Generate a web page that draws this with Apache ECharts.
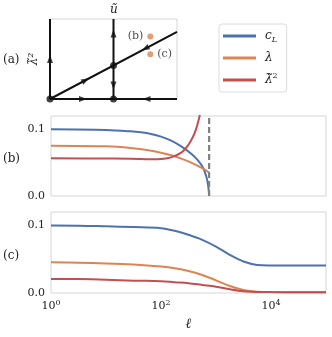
<!DOCTYPE html>
<html>
<head>
<meta charset="utf-8">
<script src="https://cdn.jsdelivr.net/npm/echarts@6/dist/echarts.min.js"></script>
<style>
  html, body { margin: 0; padding: 0; background: #fff; }
  #chart { width: 332px; height: 337px; }
</style>
</head>
<body>
<div id="chart"></div>
<script>
  // panel (a): flow diagram in unit coordinates
  const flowLines = [
    [[0, 0], [0, 1]],
    [[0, 0], [1, 0]],
    [[0.5, 0], [0.5, 1]],
    [[0, 0], [1, 0.84]],
  ];
  const fixedPoints = [[0, 0], [0.5, 0], [0.5, 0.42]];
  const arrowPoints = [[0, 0.5], [0.5, 0.82], [0.5, 0.17], [0.26, 0], [0.76, 0], [0.28, 0.235], [0.75, 0.63]];
  const arrowAngles = [0, 0, 180, -90, 90, -62, 118];
  const startPoints = [[0.79, 0.78], [0.79, 0.56]];
  const startLabels = ['(b)', '(c)'];

  // panel (b)
  const cLB = [[1, 0.100], [10, 0.099], [28, 0.097], [43, 0.0955], [66, 0.093], [100, 0.089], [153, 0.083], [233, 0.0745], [355, 0.0635], [470, 0.0535], [585, 0.042], [670, 0.0285], [720, 0.016], [750, 0.0]];
  const lamB = [[1, 0.0755], [10, 0.0745], [28, 0.072], [66, 0.068], [100, 0.065], [153, 0.061], [233, 0.056], [355, 0.050], [470, 0.045], [585, 0.041], [750, 0.035]];
  const lam2B = [[1, 0.0565], [10, 0.0562], [28, 0.056], [66, 0.055], [100, 0.0555], [153, 0.058], [233, 0.065], [310, 0.076], [380, 0.0885], [437, 0.101], [490, 0.116], [520, 0.126], [540, 0.135]];
  const divergence = [[750, 0], [750, 0.12]];

  // panel (c)
  const ellC = [1, 3.16, 10, 31.6, 100, 178, 316, 562, 1000, 1778, 3162, 5623, 10000, 31623, 100000];
  const cLC = [0.100, 0.0998, 0.0988, 0.0977, 0.0961, 0.0921, 0.0862, 0.0788, 0.0688, 0.0565, 0.0466, 0.0416, 0.0408, 0.0406, 0.0406];
  const lamC = [0.0456, 0.0448, 0.0438, 0.0421, 0.0391, 0.0367, 0.0327, 0.0267, 0.0188, 0.0104, 0.0045, 0.002, 0.0015, 0.0012, 0.0012];
  const lam2C = [0.0208, 0.0206, 0.0198, 0.0183, 0.0175, 0.0159, 0.0144, 0.0119, 0.0094, 0.0055, 0.0025, 0.0015, 0.0013, 0.0012, 0.0012];

  const names = ['cL', 'lambda', 'lambda2'];
  const colors = ['#4c72b0', '#dd8452', '#c44e52'];
  const yTicks = [0, 0.1];
  const xTickExps = [0, 2, 4];

  const serif = '"DejaVu Serif", "Liberation Serif", serif';
  const border = '#d6d6d6';
  const ink = '#222';

  const chart = echarts.init(document.getElementById('chart'));

  const pair = (xs, ys) => xs.map((x, i) => [x, ys[i]]);

  const lineSeries = (name, data, grid, color) => ({
    name,
    type: 'line',
    xAxisIndex: grid,
    yAxisIndex: grid,
    data,
    smooth: 0.35,
    showSymbol: false,
    lineStyle: { color, width: 2 },
    itemStyle: { color },
  });

  const logX = (i, showLabels) => ({
    type: 'log',
    gridIndex: i,
    logBase: 10,
    min: 1,
    max: 100000,
    axisLine: { show: false },
    axisTick: { show: false },
    splitLine: { show: false },
    minorTick: { show: false },
    axisLabel: {
      show: showLabels,
      margin: 6,
      formatter: (v) => {
        const e = Math.round(Math.log10(v));
        return xTickExps.includes(e) ? '{b|10}{s|' + e + '}' : '';
      },
      rich: {
        b: { fontFamily: serif, fontSize: 11, color: ink },
        s: { fontFamily: serif, fontSize: 8, color: ink, verticalAlign: 'top', padding: [0, 0, 6, 0] },
      },
    },
  });

  const valY = (i) => ({
    type: 'value',
    gridIndex: i,
    min: 0,
    max: 0.12,
    interval: 0.1,
    axisLine: { show: false },
    axisTick: { show: false },
    splitLine: { show: false },
    axisLabel: {
      margin: 6,
      fontFamily: serif,
      fontSize: 11,
      color: ink,
      formatter: (v) => (yTicks.some((t) => Math.abs(t - v) < 1e-9) ? v.toFixed(1) : ''),
    },
  });

  chart.setOption({
    backgroundColor: '#fff',
    animation: false,
    grid: [
      { left: 50, top: 19, width: 127, height: 80, show: true, borderColor: border, borderWidth: 1 },
      { left: 51, top: 116, width: 275, height: 80, show: true, borderColor: border, borderWidth: 1 },
      { left: 51, top: 212, width: 275, height: 81, show: true, borderColor: border, borderWidth: 1 },
    ],
    xAxis: [
      { type: 'value', gridIndex: 0, min: 0, max: 1, show: false },
      logX(1, false),
      Object.assign(logX(2, true), {
        name: 'ℓ',
        nameLocation: 'middle',
        nameGap: 24,
        nameTextStyle: { fontFamily: serif, fontSize: 14, fontStyle: 'italic', color: ink },
      }),
    ],
    yAxis: [
      {
        type: 'value', gridIndex: 0, min: 0, max: 1,
        axisLine: { show: false }, axisTick: { show: false }, axisLabel: { show: false }, splitLine: { show: false },
        name: 'λ̃²', nameLocation: 'middle', nameRotate: 90, nameGap: 10,
        nameTextStyle: { fontFamily: serif, fontSize: 12, fontStyle: 'italic', color: ink },
      },
      valY(1),
      valY(2),
    ],
    legend: {
      data: names,
      orient: 'vertical',
      left: 219,
      top: 24,
      padding: [4, 9, 4, 4],
      itemWidth: 33,
      itemHeight: 3,
      itemGap: 6,
      icon: 'rect',
      borderColor: '#dcdcdc',
      borderWidth: 1,
      borderRadius: 3,
      selectedMode: false,
      formatter: (n) => ({ cL: '{i|c}{sub|L}', lambda: '{i|λ}', lambda2: '{i|λ̃}{sup|2}' })[n],
      textStyle: {
        fontFamily: serif,
        fontSize: 12,
        color: ink,
        lineHeight: 16,
        padding: [0, 0, 0, 4],
        rich: {
          i: { fontFamily: serif, fontSize: 12, fontStyle: 'italic', color: ink },
          sub: { fontFamily: serif, fontSize: 8, fontStyle: 'italic', color: ink, verticalAlign: 'bottom', padding: [5, 0, 0, 0] },
          sup: { fontFamily: serif, fontSize: 8, color: ink, verticalAlign: 'top', padding: [0, 0, 6, 0] },
        },
      },
    },
    graphic: [
      { type: 'text', left: 3, top: 54, style: { text: '(a)', font: '12px ' + serif, fill: ink } },
      { type: 'text', left: 3, top: 153, style: { text: '(b)', font: '12px ' + serif, fill: ink } },
      { type: 'text', left: 3, top: 250, style: { text: '(c)', font: '12px ' + serif, fill: ink } },
      { type: 'text', left: 110, top: 4, style: { text: 'ũ', font: 'italic 12px ' + serif, fill: ink } },
    ],
    series: [
      ...flowLines.map((seg) => ({
        type: 'line', xAxisIndex: 0, yAxisIndex: 0, data: seg, showSymbol: false,
        lineStyle: { color: '#111', width: 2 }, silent: true,
      })),
      {
        type: 'scatter', xAxisIndex: 0, yAxisIndex: 0, symbolSize: 7,
        itemStyle: { color: '#111' }, data: fixedPoints,
      },
      {
        type: 'scatter', xAxisIndex: 0, yAxisIndex: 0, symbol: 'triangle', symbolSize: [6, 8],
        itemStyle: { color: '#111' },
        data: arrowPoints.map((p, i) => ({ value: p, symbolRotate: arrowAngles[i] })),
      },
      {
        type: 'scatter', xAxisIndex: 0, yAxisIndex: 0, symbolSize: 6,
        itemStyle: { color: '#dd8452' },
        data: startPoints.map((p, i) => ({
          value: p,
          label: {
            show: true, formatter: startLabels[i], position: i === 0 ? 'left' : 'right', distance: 4,
            fontFamily: serif, fontSize: 11, color: ink,
          },
        })),
      },
      lineSeries('cL', cLB, 1, colors[0]),
      lineSeries('lambda', lamB, 1, colors[1]),
      lineSeries('lambda2', lam2B, 1, colors[2]),
      {
        type: 'line', xAxisIndex: 1, yAxisIndex: 1, data: divergence, showSymbol: false,
        lineStyle: { color: '#808080', width: 2.2, type: [6, 3] },
      },
      lineSeries('cL', pair(ellC, cLC), 2, colors[0]),
      lineSeries('lambda', pair(ellC, lamC), 2, colors[1]),
      lineSeries('lambda2', pair(ellC, lam2C), 2, colors[2]),
    ],
  });
</script>
</body>
</html>
